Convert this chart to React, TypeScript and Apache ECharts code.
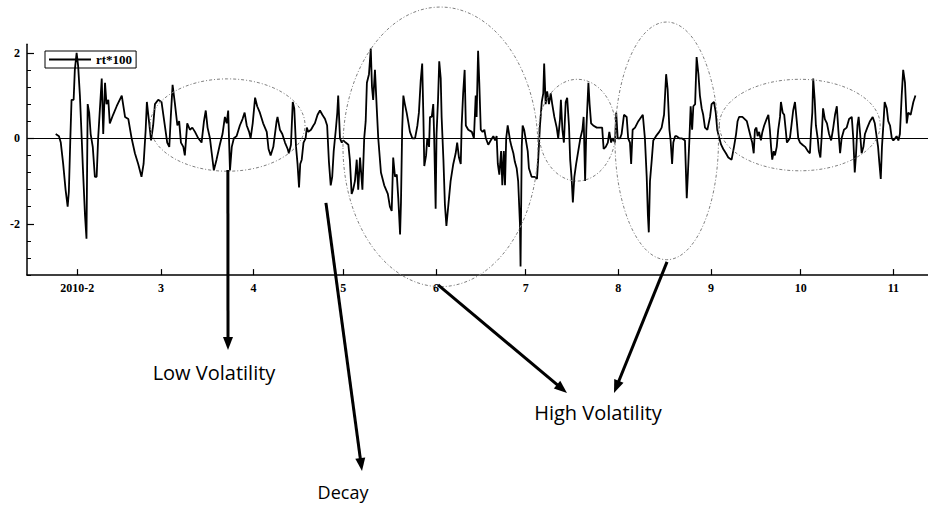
import React, { useEffect, useRef } from "react";
import * as echarts from "echarts";

// ---------- data (x: days since 2010-01-01, y: rt*100) ----------
const seriesName = "rt*100";

const dayOfYear = [
  23.8, 24.9, 25.5, 26.3, 27.1, 27.8, 28.2, 28.7, 29.1, 29.8, 30.2, 30.8, 31.3, 31.9, 32.5, 32.9, 33.6, 34.1, 34.5, 35.0,
  35.5, 36.2, 36.9, 37.5, 38.0, 38.6, 39.2, 39.7, 40.3, 40.8, 41.4, 41.9, 43.0, 44.2, 45.9, 47.0, 48.1, 49.2, 50.3, 51.4,
  52.5, 53.2, 53.9, 54.3, 55.0, 55.7, 56.4, 57.0, 58.1, 59.2, 60.3, 61.1, 61.8, 62.3, 62.9, 63.7, 64.5, 65.1, 65.7, 66.5,
  67.0, 67.8, 68.7, 69.5, 70.4, 71.5, 72.6, 73.4, 74.0, 74.6, 75.4, 76.0, 76.7, 77.6, 78.7, 79.6, 80.4, 81.0, 81.5, 82.1,
  82.7, 83.4, 84.3, 85.4, 86.3, 87.0, 87.7, 88.5, 89.0, 89.7, 90.5, 91.2, 92.1, 93.2, 94.4, 95.0, 95.7, 96.6, 97.7, 98.0,
  98.8, 99.6, 100.5, 101.4, 101.8, 102.5, 103.1, 103.6, 104.2, 104.7, 105.2, 105.6, 106.1, 106.7, 107.4, 107.8, 108.3, 109.2, 110.0, 110.5,
  111.4, 112.2, 113.0, 113.9, 114.6, 115.2, 115.8, 116.3, 116.8, 117.5, 118.0, 118.3, 118.9, 119.5, 120.0, 120.8, 121.7, 122.2, 122.8, 123.3,
  123.9, 124.5, 125.0, 125.6, 126.4, 127.0, 127.5, 127.9, 128.6, 129.2, 129.6, 130.0, 130.6, 131.2, 131.7, 132.6, 133.7, 134.9, 135.6, 136.2,
  136.7, 137.3, 137.9, 138.4, 139.0, 139.3, 139.7, 140.1, 140.6, 141.2, 141.7, 142.3, 143.1, 144.0, 144.8, 145.3, 145.9, 146.4, 146.8, 147.1,
  147.7, 148.1, 148.7, 149.0, 149.6, 150.1, 150.4, 150.9, 151.2, 151.7, 152.1, 152.6, 152.9, 153.5, 154.0, 154.5, 155.1, 155.9, 156.8, 157.6,
  158.1, 158.7, 159.3, 159.6, 160.1, 160.6, 161.0, 161.8, 163.0, 163.7, 164.3, 164.6, 165.1, 165.5, 166.0, 166.6, 167.2, 167.7, 168.5, 169.3,
  170.2, 170.8, 171.3, 171.7, 172.2, 172.8, 173.2, 173.7, 174.1, 174.5, 175.0, 175.8, 176.3, 176.9, 177.4, 178.0, 178.5, 179.1, 179.3, 179.7,
  180.0, 180.5, 181.1, 181.7, 182.1, 183.0, 184.1, 184.8, 185.2, 185.8, 186.4, 186.9, 187.2, 187.7, 188.2, 188.8, 189.4, 189.9, 190.6, 191.4,
  191.9, 192.5, 192.8, 193.3, 193.8, 194.4, 194.9, 195.5, 195.9, 196.4, 196.8, 197.3, 197.9, 198.6, 199.3, 200.0, 200.4, 200.9, 201.3, 202.0,
  202.4, 202.9, 203.6, 204.8, 205.9, 206.6, 207.1, 207.8, 208.5, 209.0, 209.6, 210.1, 210.9, 211.3, 211.8, 212.6, 213.1, 213.9, 214.8, 215.3,
  215.9, 216.3, 216.8, 217.6, 218.7, 220.2, 220.9, 221.5, 221.9, 222.2, 222.6, 223.2, 223.7, 224.6, 225.7, 226.5, 227.3, 228.0, 228.5, 229.1,
  229.5, 230.0, 230.4, 231.0, 231.5, 232.4, 233.2, 234.3, 234.9, 235.3, 235.8, 236.2, 236.7, 237.1, 237.7, 238.2, 238.8, 239.3, 239.9, 240.4,
  241.0, 241.8, 242.7, 243.2, 244.0, 244.6, 245.1, 245.8, 246.4, 247.1, 248.0, 248.8, 249.9, 250.7, 251.4, 251.9, 252.4, 253.5, 255.0, 255.7,
  256.4, 256.8, 257.3, 257.7, 258.2, 258.6, 259.1, 259.7, 260.2, 260.8, 261.6, 262.2, 262.7, 263.1, 263.5, 264.0, 264.4, 265.0, 265.5, 266.1,
  266.4, 267.0, 267.5, 268.0, 268.4, 268.9, 269.4, 270.0, 270.5, 271.1, 271.7, 272.2, 272.8, 273.6, 274.5, 275.4, 276.1, 276.5, 276.9, 277.2,
  277.7, 278.1, 278.7, 279.1, 279.6, 280.0, 280.5, 281.1, 281.8, 282.5, 283.2, 283.8, 284.5, 285.1, 285.6, 286.2, 286.7, 287.5, 288.4, 289.2,
  290.1, 290.6, 291.1, 291.5, 292.0, 292.4, 292.9, 293.4, 294.0, 294.5, 295.3, 296.2, 297.1, 297.8, 298.5, 298.9, 299.3, 299.8, 300.2, 300.7,
  301.1, 301.8, 302.3, 302.9, 303.5, 304.0, 304.6, 305.1, 305.7, 306.2, 306.8, 307.3, 307.9, 308.5, 309.0, 309.8, 310.7, 311.4,
];

const returns = [
  0.1, 0.05, -0.1, -0.6, -1.2, -1.6, -1.25, 0, 0.9, 0.9, 1.6, 2.0, 1.7, 1.0, 0, -0.7, -1.8, -2.35, 0.8, 0.6,
  0.1, -0.2, -0.9, -0.9, 0, 0.7, 1.4, 0.1, 1.3, 0.8, 0.9, 0.35, 0.55, 0.75, 1.0, 0.5, 0.45, 0, -0.35, -0.6,
  -0.9, -0.6, 0.2, 0.85, 0.4, -0.05, 0.3, 0.8, 0.9, 0.85, 0.3, -0.1, -0.2, 0.5, 1.25, 0.8, 0.3, 0.4, -0.1, -0.2,
  -0.4, 0.35, 0.2, 0.25, 0.15, 0, -0.1, 0.4, 0.65, 0.25, 0, -0.35, -0.75, -0.5, -0.15, 0.1, 0.5, 0.35, 0.65, -0.75,
  -0.2, 0, 0.05, 0.3, 0.45, 0.6, 0.3, 0.15, 0, 0.35, 0.95, 0.75, 0.6, 0.35, 0.15, -0.25, -0.4, -0.2, 0.4, 0.5,
  0.2, 0.1, -0.1, -0.25, -0.35, -0.15, 0.85, 0.7, -0.2, -0.6, -1.15, -0.6, -0.5, -0.1, 0, 0.25, 0.15, 0.2, 0.3, 0.35,
  0.55, 0.65, 0.55, 0.45, 0.3, -0.55, -1.1, -0.9, -0.3, 0.2, 0.6, 1.0, 0, -0.1, -0.05, -0.1, -0.15, -0.5, -1.3, -1.2,
  -1.0, -0.5, -1.2, -0.45, -1.2, 0, 0.4, 1.3, 1.5, 2.1, 1.2, 0.9, 1.6, 0.7, 0, -0.8, -1.1, -1.3, -1.6, -1.7,
  -0.45, -0.9, -0.85, -1.4, -2.25, -1.5, 0.2, 1.0, 0.8, 0.6, 0.4, 0.15, 0, 0, 0.3, 0.6, 1.35, 1.75, 0.5, -0.65,
  -0.4, 0, -0.2, 0.5, 0.5, 0.8, 0.05, -1.65, 0.1, 0.9, 1.8, 1.4, 0.5, -0.5, -1.55, -2.05, -1.6, -1.0, -0.6, -0.35,
  -0.1, -0.45, -0.6, 0.3, 1.05, 1.6, 0.3, 0.2, 0.15, 0, 1.0, 0.5, 2.05, 1.3, 0.2, 0.15, 0.2, 0, -0.15, -0.05,
  0.05, -0.05, 0.05, -0.6, -0.85, -0.3, -1.1, -0.3, -1.1, 0, 0.3, -0.05, -0.2, -0.35, -0.55, -0.7, -1.0, -2.0, -3.0, -0.2,
  0.3, 0.2, -0.05, -0.3, -0.7, -0.9, -0.9, -0.95, -0.5, 0.3, 0.85, 1.05, 1.75, 0.8, 1.1, 0.8, 1.05, 0.8, 0.5, 0.25,
  0, 0.45, 0.9, 0.2, -0.1, 0.85, 0.95, 0.3, -0.5, -0.95, -1.5, -0.9, -0.6, -0.3, 0, 0.2, 0.5, -1.0, 0.2, 1.3,
  0.8, 0.35, 0.3, 0.25, 0.25, 0.25, -0.25, -0.2, -0.1, 0.15, -0.1, 0, -0.1, 0.6, 0, 0, 0.1, 0.55, 0.5, 0,
  -0.1, -0.6, 0.2, 0.25, 0.4, 0.55, 0, -0.9, -1.8, -2.2, -1.0, -0.5, -0.05, 0.05, 0.15, 0.25, 0.55, 1.5, 1.15, 0.2,
  -0.05, -0.6, -0.1, 0.05, 0.05, 0, 0, -0.05, -1.4, -0.8, 0, 0.75, 0.2, 0.75, 0.8, 1.9, 1.5, 1.0, 0.7, 0.55,
  0.25, 0.2, 0.5, 0.8, 0.85, 0.6, 0.2, 0, -0.15, -0.25, -0.35, -0.45, -0.5, -0.2, 0.1, 0.4, 0.5, 0.5, 0.4, 0.2,
  0, -0.1, -0.35, 0.2, 0.25, 0.05, 0.15, -0.05, 0.15, 0.3, 0.45, 0.55, 0.2, -0.2, -0.5, -0.3, -0.4, -0.2, 0.2, 0.5,
  0.85, 0.6, 0.55, 0.2, -0.1, -0.05, 0, 0.35, 0.65, 0.85, 0.4, 0, -0.1, -0.15, -0.2, -0.3, -0.35, 0.2, 0.6, 1.4,
  0.9, 0.3, 0, -0.3, -0.45, 0, 0.7, 0.45, 0.35, 0.1, -0.05, 0.2, 0.55, 0.75, 0.2, -0.35, 0, 0.2, 0.25, 0.45,
  0.5, 0, -0.8, -0.4, 0.3, 0.5, 0.1, -0.35, -0.2, 0.1, 0.25, 0.4, 0.5, 0.35, 0, -0.2, -0.55, -0.95, -0.2, 0.35,
  0.85, 0.7, 0.4, 0.3, 0, -0.05, 0, 0.05, -0.05, 0.1, 1.0, 1.6, 1.3, 0.35, 0.6, 0.55, 0.85, 1.0,
];

// x-axis ticks (first day of each month) and their labels
const monthStartDates = [
  "2010-02-01", "2010-03-01", "2010-04-01", "2010-05-01", "2010-06-01",
  "2010-07-01", "2010-08-01", "2010-09-01", "2010-10-01", "2010-11-01",
];
const monthTickLabels = ["2010-2", "3", "4", "5", "6", "7", "8", "9", "10", "11"];

// y-axis ticks
const yLabelTicks = [-2, 0, 2];
const yMinorTicks = [-3.2, -2.8, -2.4, -2.0, -1.6, -1.2, -0.8, -0.4, 0, 0.4, 0.8, 1.2, 1.6, 2.0];

// ---------- annotations (in data coordinates: day, value) ----------
const volatilityEllipses = [
  { day: 81.3, value: 0.31, halfDays: 25.9, halfValue: 1.08 },
  { day: 152.5, value: -0.2, halfDays: 32.6, halfValue: 3.27 },
  { day: 198.3, value: 0.19, halfDays: 12.9, halfValue: 1.19 },
  { day: 228.2, value: -0.06, halfDays: 17.3, halfValue: 2.78 },
  { day: 272.7, value: 0.31, halfDays: 26.9, halfValue: 1.07 },
];

const dayNumber = (iso: string) => {
  const [y, m, d] = iso.split("-").map(Number);
  return (Date.UTC(y, m - 1, d) - Date.UTC(2010, 0, 1)) / 86400000;
};

export default function App() {
  const ref = useRef<HTMLDivElement>(null);

  useEffect(() => {
    if (!ref.current) return;
    const chart = echarts.init(ref.current, undefined, { renderer: "svg" });
    const monthDays = monthStartDates.map(dayNumber);
    const labelFor = (v: number) => {
      const i = monthDays.findIndex((d) => Math.abs(d - v) < 1e-6);
      return i >= 0 ? monthTickLabels[i] : "";
    };
    const serif = "'Liberation Serif', 'DejaVu Serif', serif";

    const option: any = {
      animation: false,
      backgroundColor: "#ffffff",
      grid: { left: 27, right: 0, top: 44.25, bottom: 233.9, containLabel: false },
      legend: {
        show: true,
        data: [{ name: seriesName, icon: "rect" }],
        left: 45,
        top: 51,
        padding: [2, 4, 2, 4],
        itemWidth: 42,
        itemHeight: 2,
        itemGap: 4,
        borderColor: "#000",
        borderWidth: 1,
        borderRadius: 0,
        itemStyle: { color: "#000", borderWidth: 0 },
        lineStyle: { width: 0 },
        textStyle: { fontFamily: serif, fontWeight: "bold", fontSize: 13, color: "#000", padding: [1, 0, 0, 0] },
      },
      xAxis: {
        type: "value",
        min: 14.2,
        max: 315.6,
        axisLine: { show: true, onZero: false, lineStyle: { color: "#000", width: 1.5 } },
        axisTick: { show: true, inside: true, length: 6, customValues: monthDays, lineStyle: { color: "#000", width: 1.2 } },
        axisLabel: {
          show: true,
          customValues: monthDays,
          formatter: (v: number) => labelFor(v),
          fontFamily: serif,
          fontWeight: "bold",
          fontSize: 12,
          color: "#000",
          margin: 7,
        },
        splitLine: { show: false },
      },
      yAxis: [
        {
          type: "value",
          min: -3.2,
          max: 2.2,
          axisLine: { show: true, onZero: false, lineStyle: { color: "#000", width: 1.5 } },
          axisTick: { show: true, inside: true, length: 7, customValues: yLabelTicks, lineStyle: { color: "#000", width: 1.2 } },
          axisLabel: {
            show: true,
            customValues: yLabelTicks,
            formatter: (v: number) => String(Math.round(v)),
            fontFamily: serif,
            fontWeight: "bold",
            fontSize: 12,
            color: "#000",
            margin: 7,
          },
          splitLine: { show: false },
        },
        {
          type: "value",
          min: -3.2,
          max: 2.2,
          position: "left",
          axisLine: { show: false, onZero: false },
          axisTick: { show: true, inside: true, length: 4, customValues: yMinorTicks, lineStyle: { color: "#000", width: 1 } },
          axisLabel: { show: false },
          splitLine: { show: false },
        },
      ],
      series: [
        {
          name: seriesName,
          type: "line",
          data: dayOfYear.map((d, i) => [d, returns[i]]),
          symbol: "none",
          showSymbol: false,
          lineStyle: { color: "#000", width: 1.8 },
          itemStyle: { color: "#000" },
          markLine: {
            silent: true,
            symbol: ["none", "none"],
            label: { show: false },
            lineStyle: { color: "#000", width: 1.2, type: "solid" },
            data: [{ yAxis: 0 }],
          },
        },
      ],
    };
    chart.setOption(option);

    const toPx = (d: number, v: number) => chart.convertToPixel({ gridIndex: 0 }, [d, v]) as number[];

    const elements: any[] = [];
    volatilityEllipses.forEach((e) => {
      const c = toPx(e.day, e.value);
      const r = toPx(e.day + e.halfDays, e.value + e.halfValue);
      elements.push({
        type: "ellipse",
        shape: { cx: c[0], cy: c[1], rx: Math.abs(r[0] - c[0]), ry: Math.abs(c[1] - r[1]) },
        style: { fill: "none", stroke: "#808080", lineWidth: 1, lineDash: [3, 2, 1, 2] },
        silent: true,
        z: 10,
      });
    });

    const arrow = (from: number[], to: number[]) => {
      const dx = to[0] - from[0];
      const dy = to[1] - from[1];
      const len = Math.hypot(dx, dy);
      const ux = dx / len;
      const uy = dy / len;
      const headLen = 13;
      const headW = 5;
      const bx = to[0] - ux * headLen;
      const by = to[1] - uy * headLen;
      elements.push({
        type: "line",
        shape: { x1: from[0], y1: from[1], x2: bx + ux * 2, y2: by + uy * 2 },
        style: { stroke: "#000", lineWidth: 3 },
        silent: true,
        z: 20,
      });
      elements.push({
        type: "polygon",
        shape: {
          points: [
            [to[0], to[1]],
            [bx - uy * headW, by + ux * headW],
            [bx + uy * headW, by - ux * headW],
          ],
        },
        style: { fill: "#000" },
        silent: true,
        z: 20,
      });
    };

    // arrows start on the ellipses / data and point to the captions
    arrow(toPx(81.4, -0.74), [228, 350]);
    arrow(toPx(114.2, -1.51), [362, 471]);
    arrow(toPx(151.7, -3.43), [567, 393]);
    arrow(toPx(228.3, -2.89), [614, 393]);

    const caption = (text: string, x: number, y: number, size: number) => {
      elements.push({
        type: "text",
        x,
        y,
        style: {
          text,
          fill: "#000",
          font: `${size}px 'Open Sans', 'Noto Sans', sans-serif`,
          textAlign: "center",
          textVerticalAlign: "middle",
          align: "center",
          verticalAlign: "middle",
        },
        silent: true,
        z: 20,
      });
    };
    caption("Low Volatility", 214, 372, 20);
    caption("Decay", 343, 492, 18);
    caption("High Volatility", 598, 412, 20);

    chart.setOption({ graphic: { elements } });

    return () => chart.dispose();
  }, []);

  return (
    <div
      ref={ref}
      style={{ position: "fixed", left: 0, top: 0, width: 928, height: 509, background: "#fff" }}
    />
  );
}
